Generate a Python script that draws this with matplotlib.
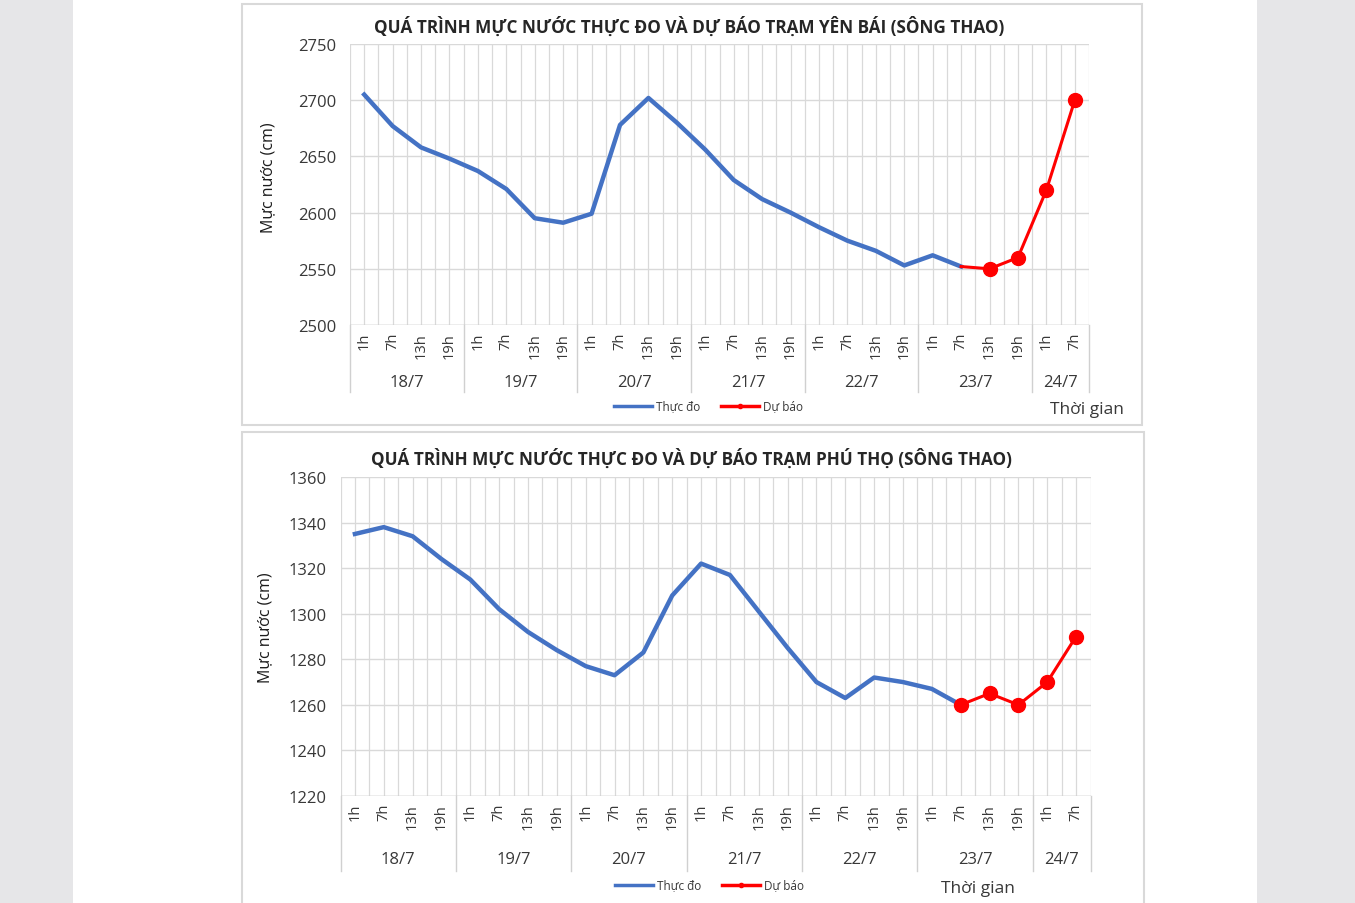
import matplotlib
matplotlib.use("Agg")
import matplotlib.pyplot as plt
from matplotlib.lines import Line2D
from matplotlib.patches import Rectangle
from matplotlib.transforms import blended_transform_factory

plt.rcParams['font.family'] = ['Open Sans', 'DejaVu Sans']

# ---- data ----
hours = ['1h', '7h', '13h', '19h'] * 6 + ['1h', '7h']
days = ['18/7', '19/7', '20/7', '21/7', '22/7', '23/7', '24/7']
day_sizes = [4, 4, 4, 4, 4, 4, 2]

# Yen Bai (song Thao)
yb_thuc_do = [2705, 2677, 2658, 2648, 2637, 2621, 2595, 2591, 2599, 2678, 2702,
              2680, 2656, 2629, 2612, 2600, 2587, 2575, 2566, 2553, 2562, 2552]
yb_du_bao = [2552, 2550, 2560, 2620, 2700]

# Phu Tho (song Thao)
pt_thuc_do = [1335, 1338, 1334, 1324, 1315, 1302, 1292, 1284, 1277, 1273, 1283,
              1308, 1322, 1317, 1301, 1285, 1270, 1263, 1272, 1270, 1267, 1260]
pt_du_bao = [1260, 1265, 1260, 1270, 1290]

W, H = 1355, 904
fig = plt.figure(figsize=(W / 100, H / 100), dpi=100, facecolor='#e6e6e8')


def fx(x):
    return x / W


def fy(y):
    return 1 - y / H


# white page + panel borders (kept behind the axes)
fig.add_artist(Rectangle((fx(73), 0), fx(1257 - 73), 1, transform=fig.transFigure,
                         facecolor='white', edgecolor='none', zorder=-2))
for x0, y0, x1, y1 in [(242, 5, 1142, 426), (242, 433, 1144, 915)]:
    fig.add_artist(Rectangle((fx(x0), fy(y1)), fx(x1 - x0), y1 / H - y0 / H,
                             transform=fig.transFigure, facecolor='white',
                             edgecolor='#d9d9d9', lw=1.5, zorder=-1))

blue = '#4472C4'
red = '#FF0000'
txt = '#383838'


def draw_chart(rect, ylim, yticks, thuc_do, du_bao, marker_first, title, title_xy,
               hour_top, day_y, sep_bottom, ylabel_xy, leg_x, leg_y, tg_xy):
    l, t, r, b = rect
    ax = fig.add_axes([fx(l), fy(b), fx(r - l), (b - t) / H])
    ax.set_facecolor('none')
    ax.set_xlim(-0.5, len(hours) - 0.5)
    ax.set_ylim(*ylim)
    ax.set_yticks(yticks)
    ax.set_xticks([])
    ax.tick_params(axis='y', length=0, pad=10, labelsize=12, labelcolor=txt)
    for s in ax.spines.values():
        s.set_visible(False)
    # grid
    for i in range(2 * len(hours) + 1):
        ax.axvline(-0.5 + i * 0.5, color='#d9d9d9', lw=0.9, zorder=1)
    for yv in yticks:
        ax.axhline(yv, color='#d9d9d9', lw=1.0, zorder=1)
    ax.axhline(ylim[0], color='#c8c8c8', lw=1.0, zorder=1)

    n = len(thuc_do)
    ax.plot(range(n), thuc_do, color=blue, lw=3.2, solid_joinstyle='round', zorder=3)
    xs = list(range(n - 1, n - 1 + len(du_bao)))
    mk = list(range(len(du_bao))) if marker_first else list(range(1, len(du_bao)))
    ax.plot(xs, du_bao, color=red, lw=2.2, marker='o', markersize=10,
            markevery=mk, zorder=4)

    # category axis (two levels)
    tr = blended_transform_factory(ax.transData, fig.transFigure)
    for i, h in enumerate(hours):
        ax.text(i, fy(hour_top), h, rotation=90, ha='center', va='top',
                fontsize=10.5, color=txt, transform=tr)
    start = 0
    seps = [-0.5]
    for d, k in zip(days, day_sizes):
        ax.text(start + (k - 1) / 2, fy(day_y), d, ha='center', va='center',
                fontsize=12, color=txt, transform=tr)
        start += k
        seps.append(start - 0.5)
    for sx in seps:
        fig.add_artist(Line2D([sx, sx], [fy(b), fy(sep_bottom)], transform=tr,
                              color='#d0d0d0', lw=1.0))

    fig.text(fx(title_xy[0]), fy(title_xy[1]), title, ha='center', va='center',
             fontsize=12.3, fontweight='bold', color='#262626')
    fig.text(fx(ylabel_xy[0]), fy(ylabel_xy[1]), 'Mực nước (cm)', rotation=90,
             ha='center', va='center', fontsize=11.5, color='#1a1a1a')
    fig.text(fx(tg_xy[0]), fy(tg_xy[1]), 'Thời gian', ha='center', va='center',
             fontsize=12.5, color=txt)

    # legend
    fig.add_artist(Line2D([fx(leg_x), fx(leg_x + 38)], [fy(leg_y)] * 2,
                          transform=fig.transFigure, color=blue, lw=2.5))
    fig.text(fx(leg_x + 42), fy(leg_y), 'Thực đo', ha='left', va='center',
             fontsize=8.5, color=txt)
    fig.add_artist(Line2D([fx(leg_x + 107), fx(leg_x + 126), fx(leg_x + 145)],
                          [fy(leg_y)] * 3, transform=fig.transFigure, color=red,
                          lw=2.5, marker='o', markersize=3, markevery=[1]))
    fig.text(fx(leg_x + 149), fy(leg_y), 'Dự báo', ha='left', va='center',
             fontsize=8.5, color=txt)
    return ax


draw_chart((350, 45, 1089, 326), (2500, 2750), range(2500, 2751, 50),
           yb_thuc_do, yb_du_bao, False,
           'QUÁ TRÌNH MỰC NƯỚC THỰC ĐO VÀ DỰ BÁO TRẠM YÊN BÁI (SÔNG THAO)', (689, 27),
           333, 383, 393, (268, 178), 614, 407, (1087, 410))

draw_chart((340.5, 478, 1090.5, 797), (1220, 1360), range(1220, 1361, 20),
           pt_thuc_do, pt_du_bao, True,
           'QUÁ TRÌNH MỰC NƯỚC THỰC ĐO VÀ DỰ BÁO TRẠM PHÚ THỌ (SÔNG THAO)', (691, 459),
           804, 860, 872, (265, 628), 615, 886, (978, 889))

fig.savefig('out.png', dpi=100, facecolor=fig.get_facecolor())
